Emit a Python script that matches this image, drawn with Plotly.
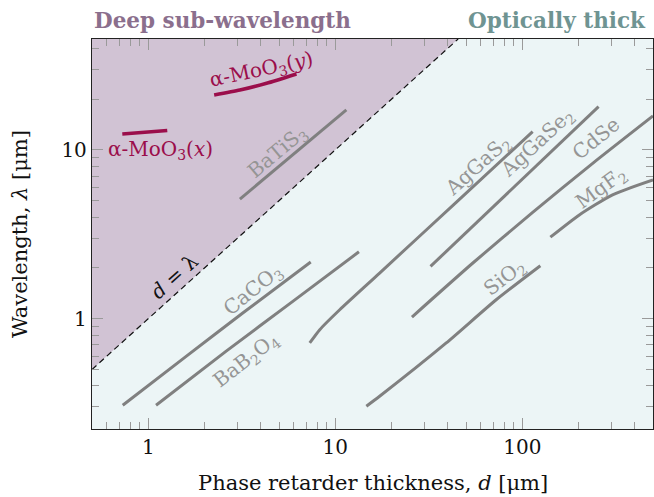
import numpy as np
import plotly.graph_objects as go

# ---------------- data ----------------
XMIN, XMAX = 0.5, 500.0
YMIN, YMAX = 0.222, 45.4

caco3_d = [0.73, 1.6, 3.2, 7.39]
caco3_l = [0.307, 0.60, 1.08, 2.165]

bab2o4_d = [1.10, 2.6, 6.0, 13.38]
bab2o4_l = [0.307, 0.64, 1.28, 2.49]

aggas2_d = [7.30, 8.26, 10.56, 17.26, 44.3, 113.6]
aggas2_l = [0.718, 0.861, 1.13, 1.864, 4.89, 12.83]

sio2_d = [14.66, 17.26, 39.2, 72.5, 124.9]
sio2_l = [0.303, 0.347, 0.718, 1.295, 2.06]

aggase2_d = [32.3, 255.8]
aggase2_l = [2.04, 18.04]

cdse_d = [25.7, 54.2, 113.2, 239.7, 500.0]
cdse_l = [1.023, 2.13, 4.25, 8.38, 15.9]

mgf2_d = [141.3, 201.8, 303.9, 500.0]
mgf2_l = [3.04, 4.12, 5.42, 6.64]

batis3_d = [3.09, 11.46]
batis3_l = [5.11, 17.25]

moo3x_d = [0.726, 1.263]
moo3x_l = [12.44, 13.01]

moo3y_d = [2.25, 3.09, 4.29, 6.20]
moo3y_l = [21.16, 22.65, 24.81, 28.17]

gray_curves = [
    (caco3_d, caco3_l), (bab2o4_d, bab2o4_l), (aggas2_d, aggas2_l),
    (sio2_d, sio2_l), (aggase2_d, aggase2_l), (cdse_d, cdse_l),
    (mgf2_d, mgf2_l), (batis3_d, batis3_l),
]
red_curves = [(moo3x_d, moo3x_l), (moo3y_d, moo3y_l)]

# labels: text, d, lambda, angle, color
LABEL_GRAY = "#959595"
RED = "#9b0e4b"
labels = [
    ("BaTiS<sub>3</sub>", 4.93, 9.73, -40, LABEL_GRAY),
    ("CaCO<sub>3</sub>", 3.64, 1.48, -39, LABEL_GRAY),
    ("BaB<sub>2</sub>O<sub>4</sub>", 3.35, 0.572, -38, LABEL_GRAY),
    ("AgGaS<sub>2</sub>", 58.0, 8.0, -42, LABEL_GRAY),
    ("AgGaSe<sub>2</sub>", 120.4, 11.0, -43, LABEL_GRAY),
    ("CdSe", 248.7, 11.78, -39, LABEL_GRAY),
    ("MgF<sub>2</sub>", 264.5, 5.96, -36, LABEL_GRAY),
    ("SiO<sub>2</sub>", 80.3, 1.748, -38, LABEL_GRAY),
    ("<i>d</i> = λ", 1.389, 1.78, -42, "#111111"),
    ("α-MoO<sub>3</sub>(<i>y</i>)", 4.03, 29.7, -12, RED),
    ("α-MoO<sub>3</sub>(<i>x</i>)", 1.155, 10.0, 0, RED),
]

x_major = [1, 10, 100]
y_major = [1, 10]
x_minor = [0.6, 0.7, 0.8, 0.9, 2, 3, 4, 5, 6, 7, 8, 9,
           20, 30, 40, 50, 60, 70, 80, 90, 200, 300, 400]
y_minor = [0.3, 0.4, 0.5, 0.6, 0.7, 0.8, 0.9, 2, 3, 4, 5, 6, 7, 8, 9, 20, 30, 40]

FONT = "DejaVu Serif"
PURPLE = "#d1c3d4"
CYAN = "#ecf5f6"
GRAY = "#808080"

fig = go.Figure()

# deep sub-wavelength region (above d = lambda)
fig.add_trace(go.Scatter(
    x=[XMIN, YMAX, XMIN, XMIN], y=[XMIN, YMAX, YMAX, XMIN],
    mode="lines", fill="toself", fillcolor=PURPLE,
    line=dict(width=0), hoverinfo="skip", showlegend=False))
# d = lambda line
fig.add_trace(go.Scatter(
    x=[XMIN, YMAX], y=[XMIN, YMAX], mode="lines",
    line=dict(color="#111111", width=1.2, dash="6px,4px"),
    showlegend=False))

for d, l in gray_curves:
    fig.add_trace(go.Scatter(x=d, y=l, mode="lines",
                             line=dict(color=GRAY, width=3, shape="spline", smoothing=0.6),
                             showlegend=False))
for d, l in red_curves:
    fig.add_trace(go.Scatter(x=d, y=l, mode="lines",
                             line=dict(color=RED, width=3.5, shape="spline", smoothing=0.6),
                             showlegend=False))

for text, d, l, ang, col in labels:
    fig.add_annotation(x=np.log10(d), y=np.log10(l), xref="x", yref="y",
                       text=text, textangle=ang, showarrow=False,
                       font=dict(family=FONT, size=20, color=col))

# headers
fig.add_annotation(x=0, y=1.0487, xref="paper", yref="paper", xanchor="left", yanchor="middle",
                   text="<b>Deep sub-wavelength</b>", showarrow=False,
                   font=dict(family=FONT, size=21.5, color="#8b6f8d"))
fig.add_annotation(x=0.991, y=1.0487, xref="paper", yref="paper", xanchor="right", yanchor="middle",
                   text="<b>Optically thick</b>", showarrow=False,
                   font=dict(family=FONT, size=21.5, color="#6f9492"))

# axis titles
fig.add_annotation(x=(20 - 92) / 561, y=0.5, xref="paper", yref="paper",
                   xanchor="center", yanchor="middle", textangle=-90,
                   text="Wavelength, <i>λ</i> [μm]", showarrow=False,
                   font=dict(family=FONT, size=21, color="#111111"))
fig.add_annotation(x=0.5, y=-(483 - 429) / 390, xref="paper", yref="paper",
                   xanchor="center", yanchor="middle",
                   text="Phase retarder thickness, <i>d</i> [μm]", showarrow=False,
                   font=dict(family=FONT, size=21, color="#111111"))

axis_common = dict(
    type="log", showgrid=False, zeroline=False,
    showline=True, linecolor="#222222", linewidth=1.3, mirror="ticks",
    ticks="inside", ticklen=11, tickwidth=1.2, tickcolor="#9a9a9a",
    tickfont=dict(family=FONT, size=20, color="#111111"),
)
fig.update_xaxes(range=[np.log10(XMIN), np.log10(XMAX)],
                 tickvals=x_major, ticktext=[str(v) for v in x_major],
                 minor=dict(tickvals=x_minor, ticks="inside", ticklen=7,
                            tickwidth=1.2, tickcolor="#9a9a9a"),
                 **axis_common)
fig.update_yaxes(range=[np.log10(YMIN), np.log10(YMAX)],
                 tickvals=y_major, ticktext=[str(v) for v in y_major],
                 minor=dict(tickvals=y_minor, ticks="inside", ticklen=7,
                            tickwidth=1.2, tickcolor="#9a9a9a"),
                 **axis_common)

fig.update_layout(
    width=654, height=497,
    margin=dict(l=92, r=1, t=39, b=68),
    plot_bgcolor=CYAN, paper_bgcolor="white",
    showlegend=False,
)

fig.write_html("out.html")
